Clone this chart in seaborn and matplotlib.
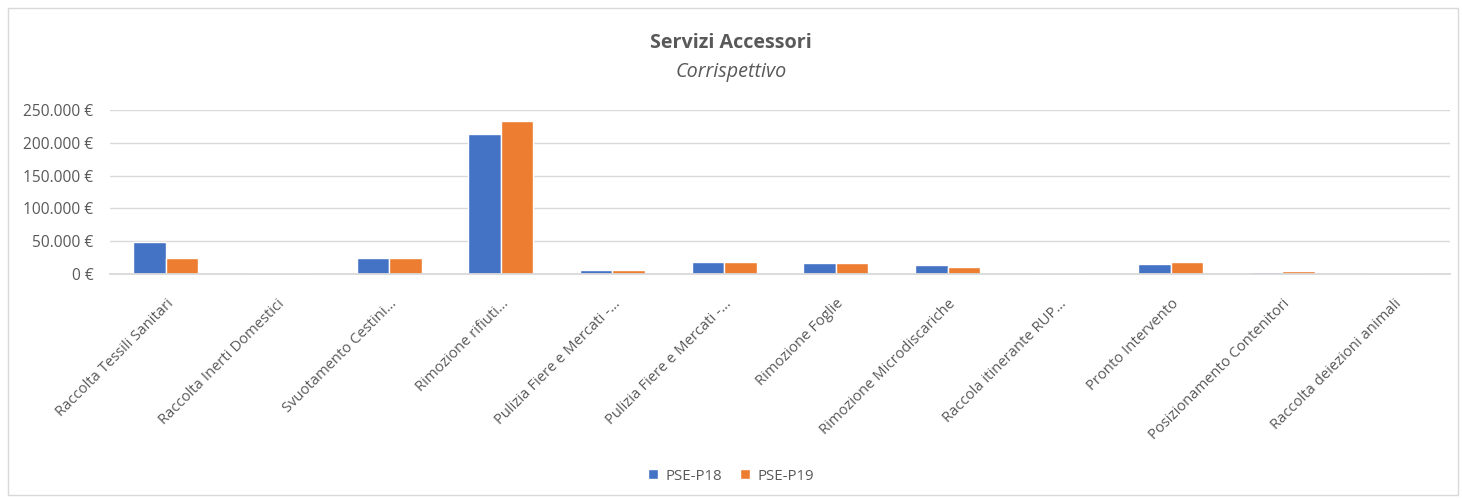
import numpy as np
import pandas as pd
import matplotlib
matplotlib.use("Agg")
import matplotlib.pyplot as plt
import seaborn as sns
from matplotlib.patches import Rectangle
from matplotlib.ticker import FuncFormatter

CATEGORIES = [
    "Raccolta Tessili Sanitari", "Raccolta Inerti Domestici", "Svuotamento Cestini…",
    "Rimozione rifiuti…", "Pulizia Fiere e Mercati -…", "Pulizia Fiere e Mercati -…",
    "Rimozione Foglie", "Rimozione Microdiscariche", "Raccola itinerante RUP…",
    "Pronto Intervento", "Posizionamento Contenitori", "Raccolta deiezioni animali",
]
PSE_P18 = [48300, 0, 24900, 213400, 6500, 18000, 16300, 13600, 0, 14700, 3500, 0]
PSE_P19 = [24900, 0, 24900, 232600, 6500, 19000, 16300, 10400, 0, 17800, 5000, 0]
SERIES = ["PSE-P18", "PSE-P19"]
COLORS = ["#4472C4", "#ED7D31"]

# long-form table for seaborn (two labels repeat -> positional slot ids)
slots = [f"c{i}" for i in range(len(CATEGORIES))]
df = pd.DataFrame({
    "slot": slots * 2,
    "value": PSE_P18 + PSE_P19,
    "serie": [SERIES[0]] * len(slots) + [SERIES[1]] * len(slots),
})

sns.set_style("white")
plt.rcParams["font.family"] = ["Open Sans", "DejaVu Sans"]
TXT = "#595959"

fig = plt.figure(figsize=(14.62, 4.98), dpi=100)
ax = fig.add_axes([110 / 1462, 1 - 274 / 498, 1340 / 1462, 164 / 498])

sns.barplot(data=df, x="slot", y="value", hue="serie", order=slots,
            palette=COLORS, width=0.58, saturation=1, ax=ax, legend=True)

ax.set_ylim(0, 250000)
ax.set_yticks(np.arange(0, 250001, 50000))
ax.yaxis.set_major_formatter(FuncFormatter(
    lambda v, _: f"{int(v):,} €".replace(",", ".")))
ax.set_xlim(-0.5, len(slots) - 0.5)
ax.set_xticks(range(len(slots)))
ax.set_xticklabels(CATEGORIES, rotation=45, ha="right", rotation_mode="anchor")
ax.tick_params(axis="both", length=0, colors=TXT)
ax.tick_params(axis="y", labelsize=11.2, pad=12)
ax.tick_params(axis="x", labelsize=10.6, pad=16)
ax.set_xlabel("")
ax.set_ylabel("")
ax.grid(axis="y", color="#D9D9D9", lw=1)
ax.set_axisbelow(True)
for s in ["top", "right", "left"]:
    ax.spines[s].set_visible(False)
ax.spines["bottom"].set_color("#D9D9D9")
ax.spines["bottom"].set_linewidth(1.3)

leg = ax.legend(loc="center", bbox_to_anchor=(0.5, (498 - 476) / 498),
                bbox_transform=fig.transFigure, ncol=2, frameon=False,
                fontsize=10.8, handlelength=0.65, handleheight=0.65,
                columnspacing=1.2, handletextpad=0.5)
for t in leg.get_texts():
    t.set_color(TXT)

fig.text(0.5, 1 - 43 / 498, "Servizi Accessori", ha="center", va="center",
         fontsize=14.2, fontweight="bold", color=TXT)
fig.text(0.5, 1 - 72 / 498, "Corrispettivo", ha="center", va="center",
         fontsize=14.2, fontstyle="italic", color=TXT)

fig.patches.append(Rectangle((8 / 1462, 3 / 498), 1450 / 1462, 487 / 498,
                             transform=fig.transFigure, fill=False,
                             edgecolor="#D9D9D9", lw=1))

fig.savefig("out.png", dpi=100, facecolor="white")
